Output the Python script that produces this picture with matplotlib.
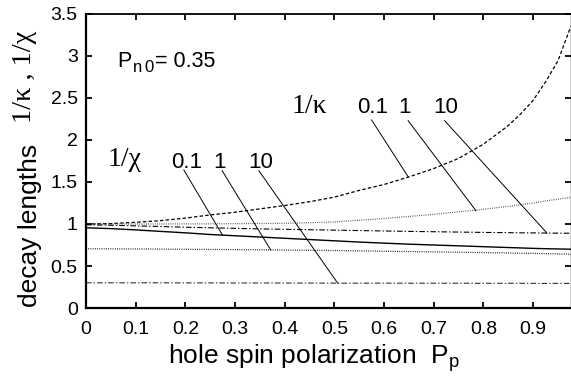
import matplotlib
matplotlib.use("Agg")
import matplotlib.pyplot as plt

plt.rcParams['font.family'] = ['Liberation Sans', 'DejaVu Sans']
plt.rcParams['mathtext.fontset'] = 'custom'
plt.rcParams['mathtext.rm'] = 'Liberation Sans'
plt.rcParams['mathtext.it'] = 'Liberation Sans'
plt.rcParams['lines.scale_dashes'] = False

# hole spin polarization grid
P = [0, 0.05, 0.1, 0.15, 0.2, 0.25, 0.3, 0.35, 0.4, 0.45, 0.5, 0.55, 0.6,
     0.65, 0.7, 0.75, 0.8, 0.85, 0.875, 0.9, 0.925, 0.95, 0.976]

# 1/kappa for ratios 0.1, 1, 10
kappa_01 = [1.0, 1.005, 1.02, 1.04, 1.07, 1.108, 1.14, 1.18, 1.22, 1.265, 1.32, 1.40,
            1.47, 1.56, 1.66, 1.78, 1.95, 2.17, 2.31, 2.47, 2.69, 2.94, 3.35]
kappa_1 = [1.0, 1.0, 1.0, 1.0, 1.001, 1.002, 1.004, 1.006, 1.008, 1.015, 1.025, 1.045,
           1.066, 1.09, 1.115, 1.145, 1.175, 1.21, 1.23, 1.25, 1.275, 1.295, 1.318]
kappa_10 = [0.99, 0.985, 0.978, 0.97, 0.962, 0.955, 0.948, 0.942, 0.937, 0.932, 0.927,
            0.922, 0.917, 0.912, 0.908, 0.904, 0.900, 0.897, 0.895, 0.894, 0.892, 0.891, 0.89]

# 1/chi for ratios 0.1, 1, 10
chi_01 = [0.955, 0.945, 0.93, 0.912, 0.895, 0.875, 0.86, 0.845, 0.83, 0.815, 0.80, 0.785,
          0.772, 0.76, 0.75, 0.74, 0.73, 0.72, 0.715, 0.71, 0.706, 0.703, 0.70]
chi_1 = [0.705, 0.704, 0.703, 0.701, 0.699, 0.697, 0.695, 0.693, 0.69, 0.687, 0.684, 0.68,
         0.676, 0.672, 0.668, 0.664, 0.66, 0.655, 0.652, 0.65, 0.647, 0.644, 0.64]
chi_10 = [0.30, 0.30, 0.30, 0.30, 0.299, 0.299, 0.298, 0.298, 0.297, 0.297, 0.296, 0.296,
          0.296, 0.295, 0.295, 0.295, 0.294, 0.294, 0.294, 0.293, 0.293, 0.293, 0.293]

ratio_labels = ['0.1', '1', '10']

# leader lines: (label end) -> (curve point)
chi_leaders = [((0.197, 1.643), (0.275, 0.866)),
               ((0.274, 1.635), (0.372, 0.69)),
               ((0.348, 1.635), (0.507, 0.294))]
kappa_leaders = [((0.575, 2.238), (0.6485, 1.563)),
                 ((0.6485, 2.23), (0.785, 1.159)),
                 ((0.722, 2.23), (0.928, 0.893))]

DASH = (0, (2.5, 1.6))
DOT = (0, (0.6, 1.0))
DASHDOT = (0, (4.0, 1.5, 1.0, 1.5))
SERIF = ['Liberation Serif', 'DejaVu Serif']

fig = plt.figure(figsize=(5.71, 3.82), dpi=100)
ax = fig.add_axes([0.1506, 0.1937, 0.849, 0.7697])

ax.plot(P, kappa_01, color='black', lw=0.9, linestyle=DASH)
ax.plot(P, kappa_1, color='#444444', lw=0.9, linestyle=DOT)
ax.plot(P, kappa_10, color='black', lw=0.8, linestyle=DASHDOT)
ax.plot(P, chi_01, color='black', lw=1.0, linestyle='-')
ax.plot(P, chi_1, color='black', lw=0.9, linestyle=DOT)
ax.plot(P, chi_10, color='#333333', lw=0.8, linestyle=DASHDOT)

for (a, b) in chi_leaders + kappa_leaders:
    ax.plot([a[0], b[0]], [a[1], b[1]], color='black', lw=0.7)

# labels
ax.text(0.044, 1.69, '1/\u03c7', family=SERIF, fontsize=20, va='baseline')
for x, t in zip([0.171, 0.2555, 0.326], ratio_labels):
    ax.text(x, 1.667, t, fontsize=16, va='baseline')
ax.text(0.4145, 2.318, '1/\u03ba', family=SERIF, fontsize=20, va='baseline')
for x, t in zip([0.546, 0.628, 0.699], ratio_labels):
    ax.text(x, 2.318, t, fontsize=16, va='baseline')
# P_n0 = 0.35 with a large, lowered subscript
ax.text(0.0624, 2.869, 'P', fontsize=15.5, va='baseline')
ax.text(0.0946, 2.81, 'n', fontsize=12, va='baseline')
ax.text(0.117, 2.81, '0', fontsize=12, va='baseline')
ax.text(0.1395, 2.869, '= 0.35', fontsize=15.5, va='baseline')

ax.set_xlim(0, 0.976)
ax.set_ylim(0, 3.5)
ax.set_xticks([0, 0.1, 0.2, 0.3, 0.4, 0.5, 0.6, 0.7, 0.8, 0.9])
ax.set_xticklabels(['0', '0.1', '0.2', '0.3', '0.4', '0.5', '0.6', '0.7', '0.8', '0.9'])
ax.set_yticks([0, 0.5, 1, 1.5, 2, 2.5, 3, 3.5])
ax.set_yticklabels(['0', '0.5', '1', '1.5', '2', '2.5', '3', '3.5'])
ax.tick_params(direction='in', length=4, width=1.3, labelsize=14, top=True, right=True)
ax.tick_params(axis='x', pad=9)
ax.tick_params(axis='y', pad=6)
for side in ['left', 'bottom']:
    ax.spines[side].set_linewidth(1.6)
ax.spines['top'].set_linewidth(1.3)
ax.spines['right'].set_linewidth(1.0)

fig.text(0.55, 0.063, r'hole spin polarization  P$_{\mathrm{p}}$', fontsize=19,
         ha='center', va='center')
fig.text(0.053, 0.41, 'decay lengths', fontsize=19, rotation=90, ha='center', va='center')
fig.text(0.043, 0.80, '1/\u03ba , 1/\u03c7', family=SERIF, fontsize=20.5,
         rotation=90, ha='center', va='center')

fig.savefig('out.png', dpi=100)
